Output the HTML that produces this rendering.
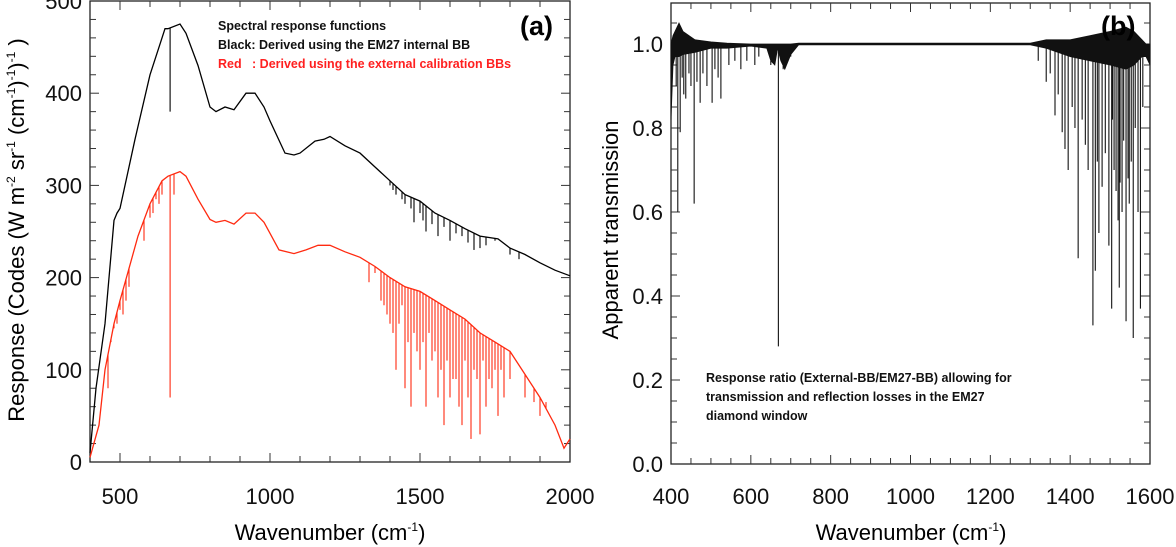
<!DOCTYPE html>
<html><head><meta charset="utf-8">
<style>
html,body{margin:0;padding:0;background:#fff;}
svg{display:block;font-family:"Liberation Sans",sans-serif;}
.tk{font-size:22px;fill:#111;}
.ann{font-size:12.5px;font-weight:bold;fill:#111;}
</style></head>
<body>
<svg id="c" width="1176" height="547" viewBox="0 0 1176 547">
<g id="pa"></g>
<g id="pb"></g>
<text x="218" y="30" class="ann">Spectral response functions</text>
<text x="218" y="49" class="ann">Black: Derived using the EM27 internal BB</text>
<text x="218" y="68" class="ann" style="fill:#ff2020">Red&#160;&#160;&#160;: Derived using the external calibration BBs</text>
<text x="520" y="35" style="font-size:27px;font-weight:bold">(a)</text>
<text x="1101" y="35" style="font-size:27px;font-weight:bold">(b)</text>
<text x="706" y="382" class="ann">Response ratio (External-BB/EM27-BB) allowing for</text>
<text x="706" y="401" class="ann">transmission and reflection losses in the EM27</text>
<text x="706" y="420" class="ann">diamond window</text>
<text x="330" y="540" text-anchor="middle" style="font-size:22px">Wavenumber (cm<tspan dy="-9" font-size="12">-1</tspan><tspan dy="9">)</tspan></text>
<text x="911" y="540" text-anchor="middle" style="font-size:22px">Wavenumber (cm<tspan dy="-9" font-size="12">-1</tspan><tspan dy="9">)</tspan></text>
<text transform="translate(24,230) rotate(-90)" text-anchor="middle" style="font-size:22px">Response (Codes (W m<tspan dy="-9" font-size="12">-2</tspan><tspan dy="9"> sr</tspan><tspan dy="-9" font-size="12">-1</tspan><tspan dy="9"> (cm</tspan><tspan dy="-9" font-size="12">-1</tspan><tspan dy="9">)</tspan><tspan dy="-9" font-size="12">-1</tspan><tspan dy="9">)</tspan><tspan dy="-9" font-size="12">-1</tspan><tspan dy="9"> )</tspan></text>
<text transform="translate(618,230) rotate(-90)" text-anchor="middle" style="font-size:22px">Apparent transmission</text>
</svg>
<script>
// ---- Panel (a) data ----
const blackX=[400,420,450,480,490,500,550,600,640,650,660,700,720,760,800,820,850,880,920,950,980,1000,1050,1080,1100,1150,1180,1200,1250,1300,1350,1400,1450,1500,1550,1600,1650,1700,1760,1800,1850,1900,1950,2000];
const blackY=[10,80,150,262,270,275,350,420,460,470,470,475,465,430,385,380,385,382,400,400,385,370,335,333,335,348,350,353,343,335,320,305,290,283,270,262,253,245,242,232,225,216,208,202];
const redX=[400,430,450,480,500,530,560,600,640,660,700,720,760,800,820,850,880,920,950,980,1000,1030,1080,1120,1160,1200,1250,1300,1350,1400,1450,1500,1550,1600,1650,1700,1750,1800,1850,1900,1950,1980,2000];
const redY=[5,40,100,150,175,210,245,280,305,310,315,310,285,263,260,262,258,270,270,260,248,230,226,230,235,235,228,222,212,200,190,185,175,165,155,140,130,120,95,70,40,15,25];
const redLineX=[460,470,480,490,500,510,520,530,580,600,610,620,630,640,680,667,1330,1350,1370,1380,1390,1400,1410,1420,1430,1440,1450,1460,1470,1480,1490,1500,1510,1520,1530,1540,1550,1560,1570,1580,1590,1600,1610,1620,1630,1640,1650,1660,1670,1680,1690,1700,1710,1720,1730,1740,1750,1760,1770,1780,1800,1820,1850,1880,1900,1920];
const redLineY=[80,130,145,150,165,160,175,190,240,265,270,285,280,290,290,70,195,205,175,170,160,150,140,100,150,170,80,130,60,140,120,100,130,60,140,110,120,70,100,40,110,70,90,90,60,40,110,70,25,100,90,30,110,60,90,80,100,50,100,70,90,110,70,65,50,65];
const blackLineX=[667,1400,1410,1420,1440,1450,1470,1480,1500,1510,1520,1540,1560,1580,1600,1620,1640,1660,1680,1700,1720,1750,1800,1830];
const blackLineY=[380,300,295,290,285,280,275,260,270,262,250,258,245,255,240,248,245,238,230,232,235,240,225,220];
const xTicksA=[500,1000,1500,2000];
const yTicksA=[0,100,200,300,400,500];
// ---- Panel (b) data ----
const envX=[400,405,410,420,430,460,500,540,600,640,650,660,667,675,685,700,720,1300,1340,1400,1450,1500,1540,1560,1580,1590,1600];
const envHi=[1.0,1.02,1.03,1.05,1.03,1.01,1.005,1.002,1.0,1.0,1.0,1.0,1.0,1.0,1.0,1.0,1.002,1.002,1.01,1.01,1.02,1.03,1.04,1.03,1.01,1.0,1.0];
const envLo=[0.82,0.95,0.97,0.97,0.975,0.98,0.99,0.99,0.995,0.99,0.96,0.95,0.99,0.96,0.94,0.975,0.998,0.998,0.99,0.97,0.96,0.95,0.94,0.95,0.97,0.97,0.95];
const lineBX=[413,417,423,428,432,437,445,450,458,465,473,480,490,503,510,518,525,545,560,575,590,610,620,650,669,681,700,1320,1340,1350,1362,1370,1380,1387,1395,1405,1412,1420,1430,1438,1445,1457,1463,1468,1472,1480,1488,1497,1504,1506,1510,1515,1520,1523,1525,1530,1534,1540,1545,1548,1553,1558,1563,1570,1576,1582];
const lineBY=[0.90,0.60,0.79,0.92,0.88,0.87,0.93,0.90,0.62,0.91,0.86,0.93,0.90,0.86,0.94,0.92,0.87,0.95,0.96,0.94,0.96,0.95,0.97,0.95,0.28,0.94,0.97,0.96,0.91,0.93,0.83,0.88,0.79,0.75,0.70,0.85,0.80,0.49,0.82,0.76,0.70,0.33,0.46,0.72,0.55,0.66,0.74,0.52,0.37,0.82,0.70,0.65,0.58,0.42,0.67,0.60,0.77,0.34,0.68,0.62,0.72,0.30,0.80,0.60,0.37,0.85];
const xTicksB=[400,600,800,1000,1200,1400,1600];
const yTicksB=[0.0,0.2,0.4,0.6,0.8,1.0];

const NS='http://www.w3.org/2000/svg';
function mk(tag,attrs,parent){const e=document.createElementNS(NS,tag);for(const k in attrs)e.setAttribute(k,attrs[k]);parent.appendChild(e);return e;}
function interp(xs,ys,v){for(let i=0;i<xs.length-1;i++){if(v>=xs[i]&&v<=xs[i+1]){const t=(v-xs[i])/(xs[i+1]-xs[i]);return ys[i]+t*(ys[i+1]-ys[i]);}}return ys[ys.length-1];}

const ax={l:90,r:570,t:1,b:462};
const xa=v=>ax.l+(v-400)*(ax.r-ax.l)/1600;
const ya=v=>ax.b-v*0.922;
const pa=document.getElementById('pa');
function frame(g,a,name){const r=mk('rect',{x:a.l,y:a.t,width:a.r-a.l,height:a.b-a.t,fill:'none',stroke:'#222','stroke-width':1.3},g);}
frame(pa,ax,'plot-frame-a');
for(let v=500;v<2000;v+=100){const x=xa(v);const L=(v%500==0)?9:6;mk('line',{x1:x,x2:x,y1:ax.b,y2:ax.b-L,stroke:'#333'},pa);mk('line',{x1:x,x2:x,y1:ax.t,y2:ax.t+L,stroke:'#333'},pa);}
for(let v=20;v<500;v+=20){const y=ya(v);const L=(v%100==0)?9:6;mk('line',{x1:ax.l,x2:ax.l+L,y1:y,y2:y,stroke:'#333'},pa);mk('line',{x1:ax.r,x2:ax.r-L,y1:y,y2:y,stroke:'#333'},pa);}
xTicksA.forEach(v=>{const t=mk('text',{x:xa(v),y:504,'text-anchor':'middle',class:'tk'},pa);t.textContent=v;});
yTicksA.forEach(v=>{const t=mk('text',{x:82,y:ya(v)+8,'text-anchor':'end',class:'tk'},pa);t.textContent=v;});
function series(g,xs,ys,fx,fy,col,name){let d='';xs.forEach((x,i)=>{d+=(i?'L':'M')+fx(x).toFixed(1)+','+fy(ys[i]).toFixed(1);});const p=mk('path',{d:d,fill:'none',stroke:col,'stroke-width':1.3},g);}
function spikes(g,lx,ly,bx,by,fx,fy,col,name){lx.forEach((x,i)=>{const b=interp(bx,by,x);const l=mk('line',{x1:fx(x),x2:fx(x),y1:fy(b),y2:fy(ly[i]),stroke:col,'stroke-width':1.1},g);});}
series(pa,blackX,blackY,xa,ya,'#000','black-response-line');
spikes(pa,blackLineX,blackLineY,blackX,blackY,xa,ya,'#000','black-absorption-line');
series(pa,redX,redY,xa,ya,'#ff2a10','red-response-line');
spikes(pa,redLineX,redLineY,redX,redY,xa,ya,'#ff2a10','red-absorption-line');

const bx={l:671,r:1150,t:3,b:464};
const xb=v=>bx.l+(v-400)*(bx.r-bx.l)/1200;
const yb=v=>bx.b-v*420;
const pb=document.getElementById('pb');
frame(pb,bx,'plot-frame-b');
for(let v=450;v<1600;v+=50){const x=xb(v);const L=(v%200==0)?9:6;mk('line',{x1:x,x2:x,y1:bx.b,y2:bx.b-L,stroke:'#333'},pb);mk('line',{x1:x,x2:x,y1:bx.t,y2:bx.t+L,stroke:'#333'},pb);}
for(let i=1;i<=21;i++){const v=i*0.05;const y=yb(v);const L=(i%4==0)?9:6;mk('line',{x1:bx.l,x2:bx.l+L,y1:y,y2:y,stroke:'#333'},pb);mk('line',{x1:bx.r,x2:bx.r-L,y1:y,y2:y,stroke:'#333'},pb);}
xTicksB.forEach(v=>{const t=mk('text',{x:xb(v),y:504,'text-anchor':'middle',class:'tk'},pb);t.textContent=v;});
yTicksB.forEach(v=>{const t=mk('text',{x:663,y:yb(v)+8,'text-anchor':'end',class:'tk'},pb);t.textContent=v.toFixed(1);});
let d='';envX.forEach((x,i)=>{d+=(i?'L':'M')+xb(x).toFixed(1)+','+yb(envHi[i]).toFixed(1);});
for(let i=envX.length-1;i>=0;i--){d+='L'+xb(envX[i]).toFixed(1)+','+yb(envLo[i]).toFixed(1);}
const band=mk('path',{d:d+'Z',fill:'#111',stroke:'#111','stroke-width':0.8},pb);


spikes(pb,lineBX,lineBY,envX,envLo,xb,yb,'#111','transmission-absorption-line');
</script>
</body></html>
